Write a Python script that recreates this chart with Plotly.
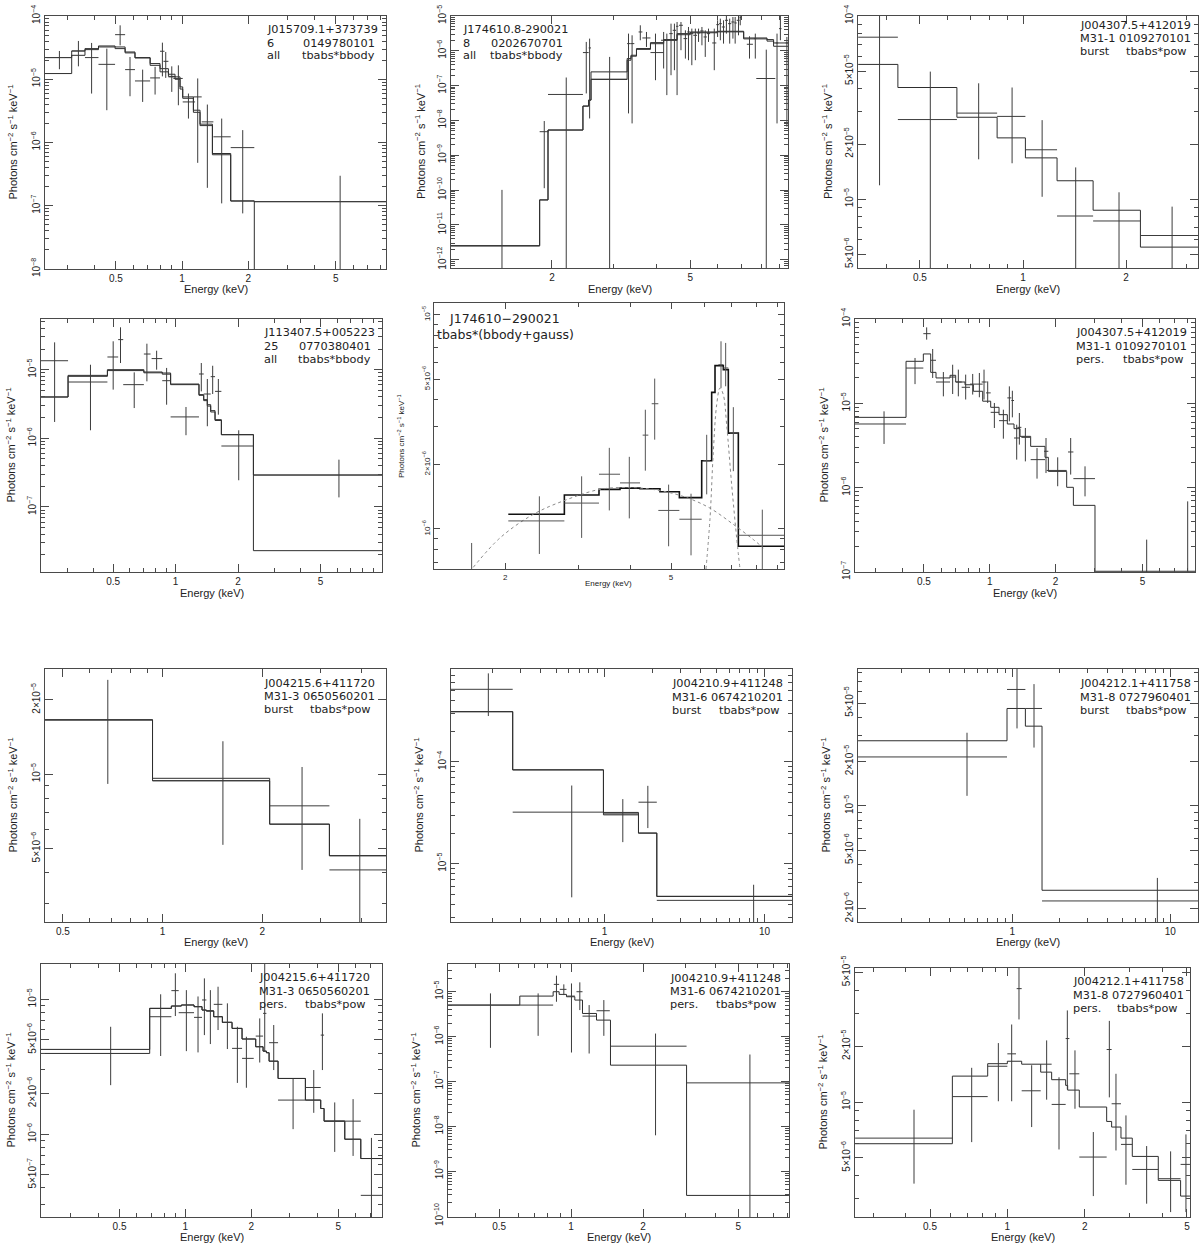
import math
import plotly.graph_objects as go

W, H = 1200, 1243

# ---------------- data (energy in keV, flux in photons cm^-2 s^-1 keV^-1) ----------------
# panel 1: J015709.1+373739
p1_e = [0.277, 0.338, 0.388, 0.455, 0.523, 0.580, 0.662, 0.754, 0.814, 0.843, 0.898, 0.962, 1.069, 1.178, 1.303, 1.514, 1.887, 5.23]
p1_elo = [0.243, 0.315, 0.362, 0.417, 0.496, 0.551, 0.611, 0.716, 0.794, 0.823, 0.867, 0.913, 1.007, 1.126, 1.228, 1.388, 1.664, 2.13]
p1_ehi = [0.315, 0.362, 0.417, 0.496, 0.551, 0.611, 0.716, 0.794, 0.832, 0.867, 0.929, 1.007, 1.146, 1.228, 1.388, 1.664, 2.13, 8.46]
p1_f = [2.20e-5, 2.80e-5, 2.20e-5, 1.72e-5, 5.07e-5, 1.42e-5, 9.4e-6, 1.05e-5, 2.77e-5, 1.92e-5, 1.09e-5, 1.03e-5, 4.38e-6, 5.26e-6, 2.12e-6, 1.23e-6, 8.3e-7, 1.16e-7]
p1_flo = [1.44e-5, 1.60e-5, 5.94e-6, 3.24e-6, 3.44e-5, 5.39e-6, 4.38e-6, 5.73e-6, 1.11e-5, 1.05e-5, 6.31e-6, 3.88e-6, 2.39e-6, 4.77e-7, 1.92e-7, 1.09e-7, 7.57e-8, 1e-9]
p1_fhi = [2.80e-5, 4.03e-5, 3.75e-5, 3.05e-5, 7.12e-5, 2.25e-5, 1.42e-5, 1.57e-5, 3.79e-5, 2.70e-5, 1.60e-5, 1.66e-5, 5.94e-6, 1.03e-5, 3.98e-6, 2.39e-6, 1.57e-6, 2.98e-7]
p1_m1_edges = [0.238, 0.315, 0.362, 0.417, 0.496, 0.551, 0.611, 0.716, 0.794, 0.867, 0.929, 0.979, 1.007, 1.126, 1.207, 1.374, 1.664, 2.13, 8.46]
p1_m1_vals = [2.20e-5, 2.80e-5, 3.05e-5, 3.36e-5, 3.24e-5, 2.70e-5, 2.20e-5, 1.77e-5, 1.47e-5, 1.20e-5, 1.09e-5, 7.57e-6, 5.26e-6, 3.24e-6, 1.95e-6, 6.7e-7, 1.19e-7, 1.16e-7]
p1_m2_edges = [0.238, 0.315, 0.362, 0.417, 0.496, 0.551, 0.611, 0.716, 0.794, 0.867, 0.929, 0.979, 1.007, 1.126, 1.207, 1.374, 1.664, 2.13, 2.131]
p1_m2_vals = [1.23e-5, 2.39e-5, 2.94e-5, 3.24e-5, 3.05e-5, 2.61e-5, 2.17e-5, 1.66e-5, 1.31e-5, 1.11e-5, 1.0e-5, 7.0e-6, 5.0e-6, 3.0e-6, 1.85e-6, 6.4e-7, 1.19e-7, 1e-10]

# panel 2: J174610.8-290021
p2_e = [1.436, 1.90, 2.198, 2.51, 2.566, 2.93, 3.32, 3.40, 3.59, 3.74, 3.97, 4.19, 4.28, 4.40, 4.50, 4.58, 4.70, 4.84, 4.94, 5.05, 5.17, 5.28, 5.40, 5.52, 5.64, 5.86, 5.99, 6.10, 6.23, 6.35, 6.49, 6.63, 6.73, 6.88, 6.96, 7.40, 7.69, 8.27, 8.88, 9.08, 9.48]
p2_elo = [1.024, 1.843, 1.948, 2.455, 2.55, 2.59, 3.29, 3.36, 3.55, 3.64, 3.84, 4.12, 4.23, 4.35, 4.45, 4.55, 4.64, 4.78, 4.90, 5.0, 5.1, 5.23, 5.34, 5.46, 5.58, 5.78, 5.94, 6.05, 6.16, 6.29, 6.42, 6.56, 6.70, 6.80, 6.93, 7.27, 7.62, 7.74, 8.80, 9.0, 9.4]
p2_ehi = [1.843, 1.956, 2.455, 2.55, 2.59, 3.29, 3.36, 3.45, 3.64, 3.84, 4.19, 4.25, 4.33, 4.45, 4.55, 4.62, 4.76, 4.90, 4.99, 5.1, 5.23, 5.34, 5.46, 5.58, 5.70, 5.94, 6.05, 6.16, 6.29, 6.42, 6.56, 6.70, 6.80, 6.93, 7.0, 7.57, 7.74, 8.78, 8.95, 9.15, 9.55]
p2_f = [2.5e-12, 4.74e-9, 5.57e-8, 8.9e-7, 1.21e-6, 1.53e-7, 1.61e-6, 1.61e-6, 3.48e-6, 2.34e-6, 8.9e-7, 2.01e-6, 2.01e-6, 3.12e-6, 3.88e-6, 5.06e-6, 5.41e-6, 2.24e-6, 3.48e-6, 3.12e-6, 2.79e-6, 3.26e-6, 3.72e-6, 2.50e-6, 3.12e-6, 1.68e-6, 5.65e-6, 6.03e-6, 4.84e-6, 7.52e-6, 6.03e-6, 6.73e-6, 6.31e-6, 7.52e-6, 8.96e-6, 1.54e-6, 2.24e-6, 1.60e-7, 1.68e-6, 4.34e-6, 1.68e-6]
p2_flo = [1e-13, 1.13e-10, 1e-13, 5.96e-8, 1.14e-8, 1e-13, 1.59e-8, 8.2e-9, 2.01e-6, 1.29e-6, 1.43e-7, 3.10e-7, 5.33e-8, 1.99e-7, 2.77e-7, 5.33e-8, 1.04e-6, 5.98e-7, 5.37e-7, 3.86e-7, 5.37e-7, 1.80e-6, 1.44e-6, 6.68e-7, 1.80e-6, 2.77e-7, 2.50e-6, 2.01e-6, 1.61e-6, 3.12e-6, 1.61e-6, 2.24e-6, 1.61e-6, 2.79e-6, 5.41e-6, 5.98e-7, 5.98e-7, 1e-13, 8.2e-9, 2.01e-6, 6.6e-9]
p2_fhi = [1.01e-10, 9.6e-9, 1.71e-7, 1.80e-6, 2.24e-6, 6.68e-7, 3.12e-6, 2.79e-6, 5.41e-6, 3.48e-6, 3.12e-6, 3.48e-6, 3.12e-6, 6.03e-6, 6.03e-6, 6.73e-6, 6.73e-6, 3.88e-6, 4.84e-6, 4.34e-6, 4.34e-6, 4.34e-6, 4.84e-6, 3.88e-6, 4.34e-6, 4.34e-6, 7.52e-6, 8.39e-6, 7.52e-6, 1.1e-5, 8.39e-6, 9.36e-6, 9.36e-6, 1.1e-5, 1.1e-5, 2.61e-6, 3.12e-6, 1.08e-6, 3.12e-6, 1.1e-5, 2.50e-6]
p2_m1_edges = [1.024, 1.843, 1.948, 2.455, 2.55, 2.59, 3.29, 3.375, 3.50, 3.84, 4.19, 4.58, 5.0, 5.97, 7.12, 8.31, 8.68, 9.55]
p2_m1_vals = [2.51e-12, 5.2e-11, 5.3e-9, 2.58e-8, 3.84e-8, 2.48e-7, 5.98e-7, 7.46e-7, 1.16e-6, 1.72e-6, 2.10e-6, 3.12e-6, 3.48e-6, 3.64e-6, 2.34e-6, 2.10e-6, 1.68e-6]
p2_m2_edges = p2_m1_edges
p2_m2_vals = [2.51e-12, 5.2e-11, 5.3e-9, 2.58e-8, 3.84e-8, 1.50e-7, 5.37e-7, 7.0e-7, 1.1e-6, 1.6e-6, 2.0e-6, 2.9e-6, 3.3e-6, 3.5e-6, 2.2e-6, 1.9e-6, 1.35e-6]

# panel 3: J004307.5+412019 burst
p3_e = [0.381, 0.536, 0.742, 0.929, 1.137, 1.425, 1.907, 2.725]
p3_elo = [0.330, 0.431, 0.641, 0.840, 1.016, 1.257, 1.602, 2.202]
p3_ehi = [0.431, 0.641, 0.840, 1.016, 1.257, 1.602, 2.202, 3.245]
p3_f = [7.66e-5, 2.72e-5, 2.95e-5, 2.83e-5, 1.86e-5, 8.09e-6, 7.6e-6, 6.33e-6]
p3_flo = [1.19e-5, 4.0e-6, 1.65e-5, 1.57e-5, 1.03e-5, 4.0e-6, 4.0e-6, 4.0e-6]
p3_fhi = [1.2e-4, 4.97e-5, 4.29e-5, 4.07e-5, 2.70e-5, 1.49e-5, 1.09e-5, 9.1e-6]
p3_m1_edges = [0.330, 0.431, 0.641, 0.840, 1.016, 1.257, 1.602, 2.202, 3.245]
p3_m1_vals = [5.44e-5, 4.07e-5, 2.80e-5, 2.16e-5, 1.68e-5, 1.26e-5, 8.7e-6, 5.47e-6]

# panel 4: J113407.5+005223
p4_e = [0.261, 0.3886, 0.500, 0.5424, 0.6316, 0.727, 0.810, 0.905, 1.122, 1.330, 1.422, 1.509, 1.607, 2.015, 6.13]
p4_elo = [0.2244, 0.303, 0.469, 0.5285, 0.5589, 0.703, 0.766, 0.862, 0.946, 1.296, 1.366, 1.476, 1.549, 1.662, 2.372]
p4_ehi = [0.303, 0.469, 0.5285, 0.5589, 0.703, 0.757, 0.862, 0.946, 1.296, 1.366, 1.476, 1.549, 1.662, 2.372, 9.89]
p4_f = [1.35e-5, 6.61e-6, 1.53e-5, 2.74e-5, 6.05e-6, 1.69e-5, 1.45e-5, 6.91e-6, 2.05e-6, 8.65e-6, 4.42e-6, 7.91e-6, 4.83e-6, 7.73e-7, 2.92e-7]
p4_flo = [1.73e-6, 1.31e-6, 5.12e-6, 1.25e-5, 2.76e-6, 6.76e-6, 1.0e-5, 3.09e-6, 1.11e-6, 4.83e-6, 1.50e-6, 4.42e-6, 2.21e-6, 2.45e-7, 1.38e-7]
p4_fhi = [2.50e-5, 1.18e-5, 2.59e-5, 4.14e-5, 9.14e-6, 2.39e-5, 1.89e-5, 1.06e-5, 2.86e-6, 1.25e-5, 7.31e-6, 1.14e-5, 7.31e-6, 1.31e-6, 4.89e-7]
p4_m1_edges = [0.2244, 0.303, 0.469, 0.703, 0.862, 0.946, 1.296, 1.366, 1.422, 1.476, 1.549, 1.662, 2.372, 9.89]
p4_m1_vals = [4.0e-6, 8.26e-6, 1.0e-5, 9.25e-6, 8.94e-6, 6.18e-6, 4.33e-6, 3.66e-6, 3.09e-6, 2.53e-6, 1.87e-6, 1.13e-6, 2.92e-7]
p4_m2_edges = p4_m1_edges
p4_m2_vals = [4.0e-6, 8.0e-6, 9.7e-6, 9.0e-6, 8.6e-6, 6.05e-6, 4.23e-6, 3.54e-6, 2.95e-6, 2.42e-6, 1.82e-6, 1.13e-6, 2.31e-8]

# panel 5: J174610-290021 tbabs*(bbody+gauss)
p5_e = [1.660, 2.414, 3.050, 3.554, 3.970, 4.338, 4.568, 4.934, 5.585, 6.090, 6.592, 6.764, 7.057, 8.283]
p5_elo = [1.660, 2.033, 2.772, 3.357, 3.771, 4.274, 4.493, 4.661, 5.236, 5.979, 6.496, 6.677, 6.928, 7.255]
p5_ehi = [1.660, 2.772, 3.357, 3.771, 4.212, 4.410, 4.661, 5.236, 5.924, 6.203, 6.677, 6.864, 7.255, 9.339]
p5_f = [6.0e-7, 1.09e-6, 1.32e-6, 1.80e-6, 1.64e-6, 2.74e-6, 3.84e-6, 1.22e-6, 1.11e-6, 2.08e-6, 5.84e-6, 5.64e-6, 2.80e-6, 9.34e-7]
p5_flo = [4.0e-7, 7.64e-7, 9.08e-7, 1.22e-6, 1.12e-6, 1.87e-6, 2.61e-6, 8.3e-7, 7.53e-7, 1.45e-6, 4.55e-6, 4.63e-6, 1.86e-6, 6.0e-7]
p5_fhi = [8.6e-7, 1.42e-6, 1.76e-6, 2.39e-6, 2.17e-6, 3.60e-6, 5.03e-6, 1.61e-6, 1.46e-6, 2.75e-6, 7.51e-6, 7.38e-6, 3.70e-6, 1.23e-6]
p5_m1_edges = [2.033, 2.772, 3.357, 3.771, 4.212, 4.704, 5.236, 5.924, 6.260, 6.377, 6.531, 6.677, 6.864, 7.255, 9.339]
p5_m1_vals = [1.17e-6, 1.44e-6, 1.53e-6, 1.55e-6, 1.54e-6, 1.49e-6, 1.40e-6, 2.08e-6, 4.34e-6, 5.78e-6, 5.78e-6, 5.54e-6, 2.80e-6, 8.30e-7]
p5_bb_e = [1.675, 1.942, 2.335, 2.808, 3.376, 3.985, 4.704, 5.453, 6.203, 7.057, 7.883, 8.329]
p5_bb_f = [6.62e-7, 9.08e-7, 1.17e-6, 1.37e-6, 1.53e-6, 1.56e-6, 1.51e-6, 1.40e-6, 1.25e-6, 1.05e-6, 8.92e-7, 8.15e-7]
p5_ga_e = [6.067, 6.203, 6.318, 6.436, 6.555, 6.677, 6.801, 6.992, 7.188, 7.322]
p5_ga_f = [6.5e-7, 1.12e-6, 2.30e-6, 3.80e-6, 4.55e-6, 4.23e-6, 3.07e-6, 1.61e-6, 9.08e-7, 6.5e-7]

# panel 6: J004307.5+412019 persistent
p6_e = [0.3287, 0.4555, 0.515, 0.5486, 0.614, 0.6772, 0.7188, 0.7766, 0.8362, 0.8970, 0.9421, 0.9792, 1.0504, 1.1548, 1.2300, 1.2696, 1.3290, 1.3670, 1.4561, 1.6461, 1.8097, 2.0464, 2.3466, 2.729, 5.224, 8.045]
p6_elo = [0.242, 0.4144, 0.4972, 0.5373, 0.5682, 0.6586, 0.6991, 0.7446, 0.8130, 0.8659, 0.9193, 0.9621, 1.0106, 1.1033, 1.2043, 1.2563, 1.2921, 1.3383, 1.3960, 1.5395, 1.7722, 1.8225, 2.2816, 2.4143, 5.224, 8.045]
p6_ehi = [0.4144, 0.4972, 0.5373, 0.5682, 0.6586, 0.6991, 0.7446, 0.8130, 0.8659, 0.9289, 0.9689, 1.0106, 1.1033, 1.2043, 1.2563, 1.2921, 1.3765, 1.3960, 1.5289, 1.7906, 1.8548, 2.2496, 2.4143, 3.031, 5.224, 8.045]
p6_f = [5.69e-6, 2.62e-5, 6.70e-5, 3.24e-5, 1.79e-5, 2.05e-5, 1.79e-5, 1.55e-5, 1.69e-5, 1.69e-5, 1.79e-5, 1.33e-5, 7.82e-6, 6.23e-6, 1.16e-5, 1.08e-5, 3.88e-6, 5.19e-6, 3.95e-6, 2.15e-6, 2.70e-6, 1.60e-6, 2.65e-6, 1.28e-6, 1.2e-7, 1.2e-7]
p6_flo = [3.30e-6, 1.69e-5, 5.69e-5, 2.0e-5, 1.21e-5, 1.29e-5, 1.21e-5, 1.11e-5, 1.27e-5, 1.18e-5, 1.11e-5, 1.01e-5, 5.10e-6, 3.81e-6, 6.12e-6, 6.82e-6, 2.15e-6, 3.24e-6, 2.05e-6, 1.28e-6, 1.49e-6, 1.04e-6, 1.43e-6, 7.89e-7, 1e-9, 1e-9]
p6_fhi = [8.04e-6, 3.45e-5, 7.96e-5, 4.41e-5, 2.35e-5, 2.87e-5, 2.51e-5, 2.19e-5, 2.23e-5, 2.29e-5, 2.51e-5, 1.82e-5, 1.01e-5, 8.41e-6, 1.59e-5, 1.41e-5, 5.58e-6, 7.68e-6, 5.10e-6, 2.95e-6, 3.88e-6, 2.29e-6, 3.88e-6, 1.79e-6, 2.42e-7, 6.88e-7]
p6_m1_edges = [0.242, 0.4144, 0.4972, 0.5373, 0.5682, 0.6586, 0.6991, 0.7711, 0.842, 0.9289, 1.0106, 1.1033, 1.2043, 1.2921, 1.3765, 1.5395, 1.7906, 1.8548, 2.2496, 2.4143, 3.031, 8.69]
p6_m1_vals = [6.82e-6, 3.15e-5, 3.85e-5, 2.33e-5, 2.0e-5, 2.15e-5, 1.79e-5, 1.66e-5, 1.39e-5, 1.06e-5, 8.97e-6, 7.34e-6, 5.69e-6, 5.01e-6, 4.06e-6, 3.09e-6, 2.29e-6, 1.56e-6, 1.01e-6, 6.17e-7, 1.02e-7]

# panel 7: J004215.6+411720 burst
p7_e = [0.6834, 1.522, 2.639, 3.943]
p7_elo = [0.4417, 0.9328, 2.107, 3.192]
p7_ehi = [0.9328, 2.107, 3.192, 4.736]
p7_f = [1.66e-5, 9.43e-6, 7.45e-6, 4.10e-6]
p7_flo = [9.14e-6, 5.18e-6, 4.10e-6, 2.4e-6]
p7_fhi = [2.41e-5, 1.36e-5, 1.07e-5, 6.60e-6]
p7_m1_edges = [0.4417, 0.9328, 2.107, 3.192, 4.736]
p7_m1_vals = [1.66e-5, 9.63e-6, 6.28e-6, 4.68e-6]
p7_m2_edges = p7_m1_edges
p7_m2_vals = [1.66e-5, 9.40e-6, 6.28e-6, 4.68e-6]

# panel 8: J004210.9+411248 burst
p8_e = [0.1884, 0.6249, 1.302, 1.866, 8.54]
p8_elo = [0.1101, 0.2674, 0.9857, 1.631, 2.123]
p8_ehi = [0.2674, 0.9857, 1.631, 2.123, 14.83]
p8_f = [5.16e-4, 3.21e-5, 3.09e-5, 4.02e-5, 4.37e-6]
p8_flo = [2.82e-4, 4.68e-6, 1.63e-5, 2.24e-5, 2.5e-6]
p8_fhi = [7.40e-4, 5.86e-5, 4.31e-5, 5.82e-5, 6.22e-6]
p8_m1_edges = [0.1101, 0.2674, 0.9857, 1.631, 2.123, 14.83]
p8_m1_vals = [3.11e-4, 8.35e-5, 3.19e-5, 2.00e-5, 4.78e-6]
p8_m2_edges = p8_m1_edges
p8_m2_vals = [3.11e-4, 8.35e-5, 3.02e-5, 2.00e-5, 4.78e-6]

# panel 9: J004212.1+411758 burst
p9_e = [0.5164, 1.070, 1.371, 8.275]
p9_elo = [0.1055, 0.925, 1.209, 1.541]
p9_ehi = [0.925, 1.209, 1.541, 14.97]
p9_f = [2.15e-5, 6.18e-5, 4.59e-5, 2.26e-6]
p9_flo = [1.17e-5, 3.36e-5, 2.49e-5, 1.5e-6]
p9_fhi = [3.14e-5, 8.6e-5, 6.72e-5, 3.24e-6]
p9_m1_edges = [0.1055, 0.925, 1.209, 1.541, 14.97]
p9_m1_vals = [2.77e-5, 4.59e-5, 3.48e-5, 2.67e-6]

# panel 10: J004215.6+411720 persistent
p10_e = [0.4555, 0.7711, 0.9000, 1.0106, 1.1426, 1.2216, 1.3012, 1.4108, 1.5563, 1.7293, 1.9011, 2.1876, 2.3061, 2.535, 3.1083, 3.8637, 4.2317, 4.8183, 5.8453, 7.0909]
p10_elo = [0.2188, 0.6869, 0.8630, 0.9322, 1.0955, 1.1918, 1.2474, 1.3479, 1.4766, 1.6345, 1.8163, 2.0973, 2.2660, 2.4143, 2.6532, 3.5384, 4.1582, 4.3066, 5.3554, 6.3389]
p10_ehi = [0.6869, 0.8630, 0.9322, 1.0955, 1.1918, 1.2474, 1.3479, 1.4766, 1.6345, 1.8163, 2.0538, 2.2660, 2.3468, 2.6532, 3.5384, 4.1582, 4.3066, 5.3554, 6.3389, 7.9341]
p10_f = [4.25e-6, 7.43e-6, 1.16e-5, 7.96e-6, 7.35e-6, 9.89e-6, 8.24e-6, 9.18e-6, 6.75e-6, 4.33e-6, 3.65e-6, 5.34e-6, 7.87e-6, 4.77e-6, 1.79e-6, 2.22e-6, 5.43e-6, 1.25e-6, 1.25e-6, 3.52e-7]
p10_flo = [2.31e-6, 3.80e-6, 7.52e-6, 4.13e-6, 4.04e-6, 5.43e-6, 4.66e-6, 5.92e-6, 4.28e-6, 2.40e-6, 2.21e-6, 3.40e-6, 4.09e-6, 2.99e-6, 1.09e-6, 1.44e-6, 2.99e-6, 7.39e-7, 6.90e-7, 2.0e-7]
p10_fhi = [6.26e-6, 1.09e-5, 1.56e-5, 1.17e-5, 1.05e-5, 1.43e-5, 1.17e-5, 1.24e-5, 9.34e-6, 6.26e-6, 5.28e-6, 7.22e-6, 2.0e-5, 6.45e-6, 2.59e-6, 2.99e-6, 7.87e-6, 1.72e-6, 1.82e-6, 9.39e-7]
p10_m1_edges = [0.2188, 0.6869, 0.8630, 0.9587, 1.0955, 1.1918, 1.2474, 1.3479, 1.4766, 1.6345, 1.8163, 2.0973, 2.2660, 2.3468, 2.4143, 2.6532, 3.5384, 4.1582, 4.3066, 5.3554, 6.3389, 7.9341]
p10_m1_vals = [4.25e-6, 8.57e-6, 8.92e-6, 9.08e-6, 8.82e-6, 8.33e-6, 8.19e-6, 7.43e-6, 6.75e-6, 6.09e-6, 5.08e-6, 4.45e-6, 4.13e-6, 4.02e-6, 3.48e-6, 2.59e-6, 1.79e-6, 1.55e-6, 1.25e-6, 9.18e-7, 6.60e-7]
p10_m2_edges = p10_m1_edges
p10_m2_vals = [3.97e-6, 8.57e-6, 8.92e-6, 9.08e-6, 8.82e-6, 8.33e-6, 8.19e-6, 7.43e-6, 6.75e-6, 6.09e-6, 5.08e-6, 4.45e-6, 4.13e-6, 4.02e-6, 3.48e-6, 2.59e-6, 1.79e-6, 1.55e-6, 1.25e-6, 9.18e-7, 6.60e-7]

# panel 11: J004210.9+411248 persistent
p11_e = [0.4598, 0.7276, 0.8681, 0.9318, 1.0032, 1.0870, 1.1892, 1.3698, 2.2538, 5.5920]
p11_elo = [0.3058, 0.6099, 0.8462, 0.8966, 0.9622, 1.0527, 1.1154, 1.2764, 1.4604, 3.0385]
p11_ehi = [0.6099, 0.8407, 0.8908, 0.9560, 1.0359, 1.1154, 1.2764, 1.4510, 3.0385, 8.1433]
p11_f = [5.04e-6, 5.04e-6, 1.46e-5, 1.13e-5, 8.0e-6, 1.0e-5, 2.86e-6, 3.77e-6, 6.12e-7, 9.31e-8]
p11_flo = [5.62e-7, 1.04e-6, 5.98e-6, 8.42e-6, 4.42e-7, 3.90e-6, 4.20e-7, 1.04e-6, 6.32e-9, 5e-11]
p11_fhi = [9.18e-6, 9.18e-6, 2.28e-5, 1.46e-5, 1.53e-5, 1.62e-5, 5.04e-6, 6.52e-6, 1.17e-6, 3.99e-7]
p11_m1_edges = [0.3058, 0.6099, 0.8407, 0.8908, 0.956, 1.0359, 1.1154, 1.2764, 1.4604, 3.0385, 8.1433]
p11_m1_vals = [5.04e-6, 8.0e-6, 1.0e-5, 8.72e-6, 7.73e-6, 6.52e-6, 3.28e-6, 2.33e-6, 2.31e-7, 2.89e-10]

# panel 12: J004212.1+411758 persistent
p12_e = [0.4332, 0.7265, 0.9226, 1.0396, 1.1100, 1.2436, 1.4224, 1.5888, 1.7120, 1.8334, 2.1610, 2.4945, 2.6474, 2.8955, 3.4855, 4.3204, 4.9570]
p12_elo = [0.2555, 0.6109, 0.8385, 1.0, 1.0872, 1.1371, 1.3483, 1.4875, 1.6866, 1.7430, 1.9059, 2.4355, 2.5468, 2.7689, 3.0644, 3.8681, 4.7250]
p12_ehi = [0.6109, 0.8385, 1.0, 1.0807, 1.1371, 1.3483, 1.4875, 1.6866, 1.7430, 1.9059, 2.4355, 2.5468, 2.7689, 3.0644, 3.8681, 4.7250, 5.1378]
p12_f = [6.39e-6, 1.07e-5, 1.56e-5, 1.82e-5, 4.09e-5, 1.15e-5, 1.60e-5, 9.71e-6, 2.20e-5, 1.42e-5, 5.05e-6, 1.92e-5, 9.79e-6, 5.91e-6, 4.33e-6, 3.86e-6, 4.61e-6]
p12_flo = [3.63e-6, 6.08e-6, 1.01e-5, 1.01e-5, 2.79e-5, 7.33e-6, 1.03e-5, 5.55e-6, 1.17e-5, 9.20e-6, 3.11e-6, 1.06e-5, 5.48e-6, 3.58e-6, 2.83e-6, 2.55e-6, 2.55e-6]
p12_fhi = [9.09e-6, 1.53e-5, 2.08e-5, 2.62e-5, 6.0e-5, 1.58e-5, 2.15e-5, 1.36e-5, 3.12e-5, 1.90e-5, 6.89e-6, 2.74e-5, 1.42e-5, 8.47e-6, 5.79e-6, 5.42e-6, 6.69e-6]
p12_m1_edges = [0.2555, 0.6109, 0.8385, 1.0, 1.1371, 1.3483, 1.4875, 1.6866, 1.7171, 1.9059, 2.4355, 2.5468, 2.7689, 3.0644, 3.8681, 4.7250, 5.1378]
p12_m1_vals = [5.96e-6, 1.38e-5, 1.61e-5, 1.66e-5, 1.60e-5, 1.45e-5, 1.32e-5, 1.23e-5, 1.16e-5, 9.40e-6, 7.86e-6, 7.33e-6, 6.39e-6, 5.09e-6, 3.78e-6, 3.11e-6]

# ---------------- panel layout: frame box in pixels, log10 ranges, ticks, labels ----------------
PANELS = [
    dict(box=(45, 16, 386, 269), xr=(-0.623, 0.927), yr=(-8, -4),
         xt=[0.5, 1, 2, 5], yt=[1e-4, 1e-5, 1e-6, 1e-7, 1e-8],
         data=(p1_e, p1_elo, p1_ehi, p1_f, p1_flo, p1_fhi),
         models=[(p1_m1_edges, p1_m1_vals), (p1_m2_edges, p1_m2_vals)],
         text=[("J015709.1+373739", 265, 29, "left"), ("6", 265, 43, "left"), ("0149780101", 377, 43, "right"),
               ("all", 265, 56, "left"), ("tbabs*bbody", 377, 56, "right")],
         ytx=13, xty=289),
    dict(box=(451, 16, 788, 268), xr=(0.0105, 0.980), yr=(-12.24, -5),
         xt=[2, 5], yt=[1e-5, 1e-6, 1e-7, 1e-8, 1e-9, 1e-10, 1e-11, 1e-12],
         data=(p2_e, p2_elo, p2_ehi, p2_f, p2_flo, p2_fhi),
         models=[(p2_m1_edges, p2_m1_vals), (p2_m2_edges, p2_m2_vals)],
         text=[("J174610.8-290021", 461, 29, "left"), ("8", 461, 43, "left"), ("0202670701", 565, 43, "right"),
               ("all", 461, 56, "left"), ("tbabs*bbody", 565, 56, "right")],
         ytx=420, xty=289),
    dict(box=(858, 16, 1198, 268), xr=(-0.482, 0.511), yr=(-5.376, -4.0),
         xt=[0.5, 1, 2], yt=[1e-4, 5e-5, 2e-5, 1e-5, 5e-6],
         data=(p3_e, p3_elo, p3_ehi, p3_f, p3_flo, p3_fhi),
         models=[(p3_m1_edges, p3_m1_vals)],
         text=[("J004307.5+412019", 1078, 25, "left"), ("M31-1 0109270101", 1078, 38, "left"),
               ("burst", 1078, 52, "left"), ("tbabs*pow", 1189, 52, "right")],
         ytx=827, xty=289),
    dict(box=(41, 319, 382, 572), xr=(-0.649, 0.995), yr=(-7.947, -4.262),
         xt=[0.5, 1, 2, 5], yt=[1e-5, 1e-6, 1e-7],
         data=(p4_e, p4_elo, p4_ehi, p4_f, p4_flo, p4_fhi),
         models=[(p4_m1_edges, p4_m1_vals), (p4_m2_edges, p4_m2_vals)],
         text=[("J113407.5+005223", 262, 333, "left"), ("25", 262, 346, "left"), ("0770380401", 373, 346, "right"),
               ("all", 262, 359, "left"), ("tbabs*bbody", 373, 359, "right")],
         ytx=10, xty=593),
    dict(box=(434, 303, 784, 569), xr=(0.1297, 0.9703), yr=(-6.187, -4.9456),
         xt=[2, 5], yt=[1e-5, 5e-6, 2e-6, 1e-6],
         data=(p5_e, p5_elo, p5_ehi, p5_f, p5_flo, p5_fhi),
         models=[(p5_m1_edges, p5_m1_vals)],
         dotted=[(p5_bb_e, p5_bb_f), (p5_ga_e, p5_ga_f)],
         text=[("J174610\u2212290021", 447, 319, "left"), ("tbabs*(bbody+gauss)", 435, 335, "left")],
         ytx=401, xty=583, small=True),
    dict(box=(855, 319, 1195, 572), xr=(-0.616, 0.939), yr=(-7, -4),
         xt=[0.5, 1, 2, 5], yt=[1e-4, 1e-5, 1e-6, 1e-7],
         data=(p6_e, p6_elo, p6_ehi, p6_f, p6_flo, p6_fhi),
         models=[(p6_m1_edges, p6_m1_vals)],
         text=[("J004307.5+412019", 1074, 333, "left"), ("M31-1 0109270101", 1074, 346, "left"),
               ("pers.", 1074, 359, "left"), ("tbabs*pow", 1186, 359, "right")],
         ytx=823, xty=593),
    dict(box=(45, 669, 386, 922), xr=(-0.355, 0.675), yr=(-5.598, -4.574),
         xt=[0.5, 1, 2], yt=[2e-5, 1e-5, 5e-6],
         data=(p7_e, p7_elo, p7_ehi, p7_f, p7_flo, p7_fhi),
         models=[(p7_m1_edges, p7_m1_vals), (p7_m2_edges, p7_m2_vals)],
         text=[("J004215.6+411720", 262, 683, "left"), ("M31-3 0650560201", 262, 696, "left"),
               ("burst", 262, 709, "left"), ("tbabs*pow", 373, 709, "right")],
         ytx=12, xty=942),
    dict(box=(451, 669, 792, 922), xr=(-0.958, 1.171), yr=(-5.572, -3.088),
         xt=[1, 10], yt=[1e-4, 1e-5],
         data=(p8_e, p8_elo, p8_ehi, p8_f, p8_flo, p8_fhi),
         models=[(p8_m1_edges, p8_m1_vals), (p8_m2_edges, p8_m2_vals)],
         text=[("J004210.9+411248", 670, 683, "left"), ("M31-6 0674210201", 670, 697, "left"),
               ("burst", 670, 710, "left"), ("tbabs*pow", 782, 710, "right")],
         ytx=418, xty=942),
    dict(box=(858, 669, 1198, 922), xr=(-0.977, 1.175), yr=(-5.789, -4.070),
         xt=[1, 10], yt=[5e-5, 2e-5, 1e-5, 5e-6, 2e-6],
         data=(p9_e, p9_elo, p9_ehi, p9_f, p9_flo, p9_fhi),
         models=[(p9_m1_edges, p9_m1_vals)],
         text=[("J004212.1+411758", 1078, 683, "left"), ("M31-8 0727960401", 1078, 697, "left"),
               ("burst", 1078, 710, "left"), ("tbabs*pow", 1189, 710, "right")],
         ytx=825, xty=942),
    dict(box=(41, 964, 382, 1217), xr=(-0.66, 0.899), yr=(-6.614, -4.738),
         xt=[0.5, 1, 2, 5], yt=[1e-5, 5e-6, 2e-6, 1e-6, 5e-7],
         data=(p10_e, p10_elo, p10_ehi, p10_f, p10_flo, p10_fhi),
         models=[(p10_m1_edges, p10_m1_vals), (p10_m2_edges, p10_m2_vals)],
         text=[("J004215.6+411720", 257, 977, "left"), ("M31-3 0650560201", 257, 991, "left"),
               ("pers.", 257, 1004, "left"), ("tbabs*pow", 368, 1004, "right")],
         ytx=10, xty=1237),
    dict(box=(448, 964, 789, 1217), xr=(-0.515, 0.911), yr=(-10.02, -4.382),
         xt=[0.5, 1, 2, 5], yt=[1e-5, 1e-6, 1e-7, 1e-8, 1e-9, 1e-10],
         data=(p11_e, p11_elo, p11_ehi, p11_f, p11_flo, p11_fhi),
         models=[(p11_m1_edges, p11_m1_vals)],
         text=[("J004210.9+411248", 668, 978, "left"), ("M31-6 0674210201", 668, 991, "left"),
               ("pers.", 668, 1004, "left"), ("tbabs*pow", 779, 1004, "right")],
         ytx=415, xty=1237),
    dict(box=(855, 968, 1190, 1217), xr=(-0.593, 0.711), yr=(-5.62, -4.277),
         xt=[0.5, 1, 2, 5], yt=[5e-5, 2e-5, 1e-5, 5e-6],
         data=(p12_e, p12_elo, p12_ehi, p12_f, p12_flo, p12_fhi),
         models=[(p12_m1_edges, p12_m1_vals)],
         text=[("J004212.1+411758", 1071, 981, "left"), ("M31-8 0727960401", 1071, 995, "left"),
               ("pers.", 1071, 1008, "left"), ("tbabs*pow", 1180, 1008, "right")],
         ytx=822, xty=1237),
]

FRAME = "#4a4a4a"
DATA_C = "#3c3c3c"
MODEL_C = "#2e2e2e"
TICK_FONT = "Liberation Sans"
LABEL_FONT = "DejaVu Sans"
YTITLE = "Photons cm<sup>\u22122</sup> s<sup>\u22121</sup> keV<sup>\u22121</sup>"


def sci_label(v):
    exp = math.floor(math.log10(v) + 1e-9)
    mant = round(v / 10 ** exp)
    s = "10<sup>\u2212%d</sup>" % (-exp)
    return s if mant == 1 else "%d\u00d7%s" % (mant, s)


def minor_vals(lo, hi, majors):
    out = []
    for n in range(math.floor(lo) - 1, math.ceil(hi) + 1):
        for k in range(1, 10):
            v = k * 10 ** n
            lv = math.log10(v)
            if lo <= lv <= hi and all(abs(lv - math.log10(m)) > 1e-6 for m in majors):
                out.append(v)
    return out


def cross_xy(e, elo, ehi, f, flo, fhi):
    if not (len(e) == len(elo) == len(ehi) == len(f) == len(flo) == len(fhi)):
        raise ValueError("length mismatch")
    xs, ys = [], []
    for c, a, b, y, ya, yb in zip(e, elo, ehi, f, flo, fhi):
        xs += [a, b, None, c, c, None]
        ys += [y, y, None, ya, yb, None]
    return xs, ys


fig = go.Figure()
annotations = []

for i, p in enumerate(PANELS, start=1):
    sfx = "" if i == 1 else str(i)
    xa, ya = "x" + sfx, "y" + sfx
    small = p.get("small", False)
    x0, y0, x1, y1 = p["box"]

    for edges, vals in p["models"]:
        if len(edges) != len(vals) + 1:
            raise ValueError("model length mismatch in panel %d" % i)
        fig.add_trace(go.Scatter(x=edges, y=list(vals) + [vals[-1]], xaxis=xa, yaxis=ya,
                                 mode="lines", line=dict(color="#111" if small else MODEL_C,
                                                         width=1.6 if small else 1, shape="hv"),
                                 hoverinfo="skip", showlegend=False))
    for de, df in p.get("dotted", []):
        fig.add_trace(go.Scatter(x=de, y=df, xaxis=xa, yaxis=ya, mode="lines",
                                 line=dict(color="#8a8a8a", width=1, dash="dot", shape="spline"),
                                 hoverinfo="skip", showlegend=False))
    cx, cy = cross_xy(*p["data"])
    fig.add_trace(go.Scatter(x=cx, y=cy, xaxis=xa, yaxis=ya, mode="lines",
                             line=dict(color="#555" if small else DATA_C, width=1),
                             hoverinfo="skip", showlegend=False))

    tf = dict(family=TICK_FONT, size=8 if small else 10, color="#222")
    common = dict(type="log", showline=True, linecolor=FRAME, linewidth=1, mirror="ticks",
                  ticks="inside", ticklen=6 if small else 8, tickwidth=1, tickcolor=FRAME,
                  showgrid=False, zeroline=False, tickfont=tf, automargin=False)
    fig.layout["xaxis" + sfx] = dict(
        common, domain=[x0 / W, x1 / W], anchor=ya, range=list(p["xr"]),
        tickmode="array", tickvals=p["xt"], ticktext=["%g" % v for v in p["xt"]],
        minor=dict(tickmode="array", tickvals=minor_vals(p["xr"][0], p["xr"][1], p["xt"]),
                   ticks="inside", ticklen=4, tickcolor=FRAME, showgrid=False))
    fig.layout["yaxis" + sfx] = dict(
        common, domain=[1 - y1 / H, 1 - y0 / H], anchor=xa, range=list(p["yr"]),
        tickmode="array", tickvals=p["yt"], ticktext=[sci_label(v) for v in p["yt"]], tickangle=-90,
        minor=dict(tickmode="array", tickvals=minor_vals(p["yr"][0], p["yr"][1], p["yt"]),
                   ticks="inside", ticklen=4, tickcolor=FRAME, showgrid=False))

    for txt, tx, ty, side in p["text"]:
        annotations.append(dict(text=txt, x=tx / W, y=1 - ty / H, xref="paper", yref="paper",
                                xanchor=side, yanchor="middle", showarrow=False,
                                font=dict(family=LABEL_FONT, size=12.5 if small else 11.3, color="#222")))
    annotations.append(dict(text=YTITLE, x=p["ytx"] / W, y=1 - (y0 + y1) / 2 / H, xref="paper", yref="paper",
                            textangle=-90, showarrow=False, xanchor="center", yanchor="middle",
                            font=dict(family=TICK_FONT, size=8 if small else 11, color="#222")))
    annotations.append(dict(text="Energy (keV)", x=(x0 + x1) / 2 / W, y=1 - p["xty"] / H, xref="paper", yref="paper",
                            showarrow=False, xanchor="center", yanchor="middle",
                            font=dict(family=TICK_FONT, size=8 if small else 11, color="#222")))

fig.update_layout(width=W, height=H, margin=dict(l=0, r=0, t=0, b=0, autoexpand=False),
                  paper_bgcolor="white", plot_bgcolor="white", annotations=annotations,
                  showlegend=False)

fig.write_html("out.html", config={"displayModeBar": False},
               post_script="document.body.style.margin='0px';")
